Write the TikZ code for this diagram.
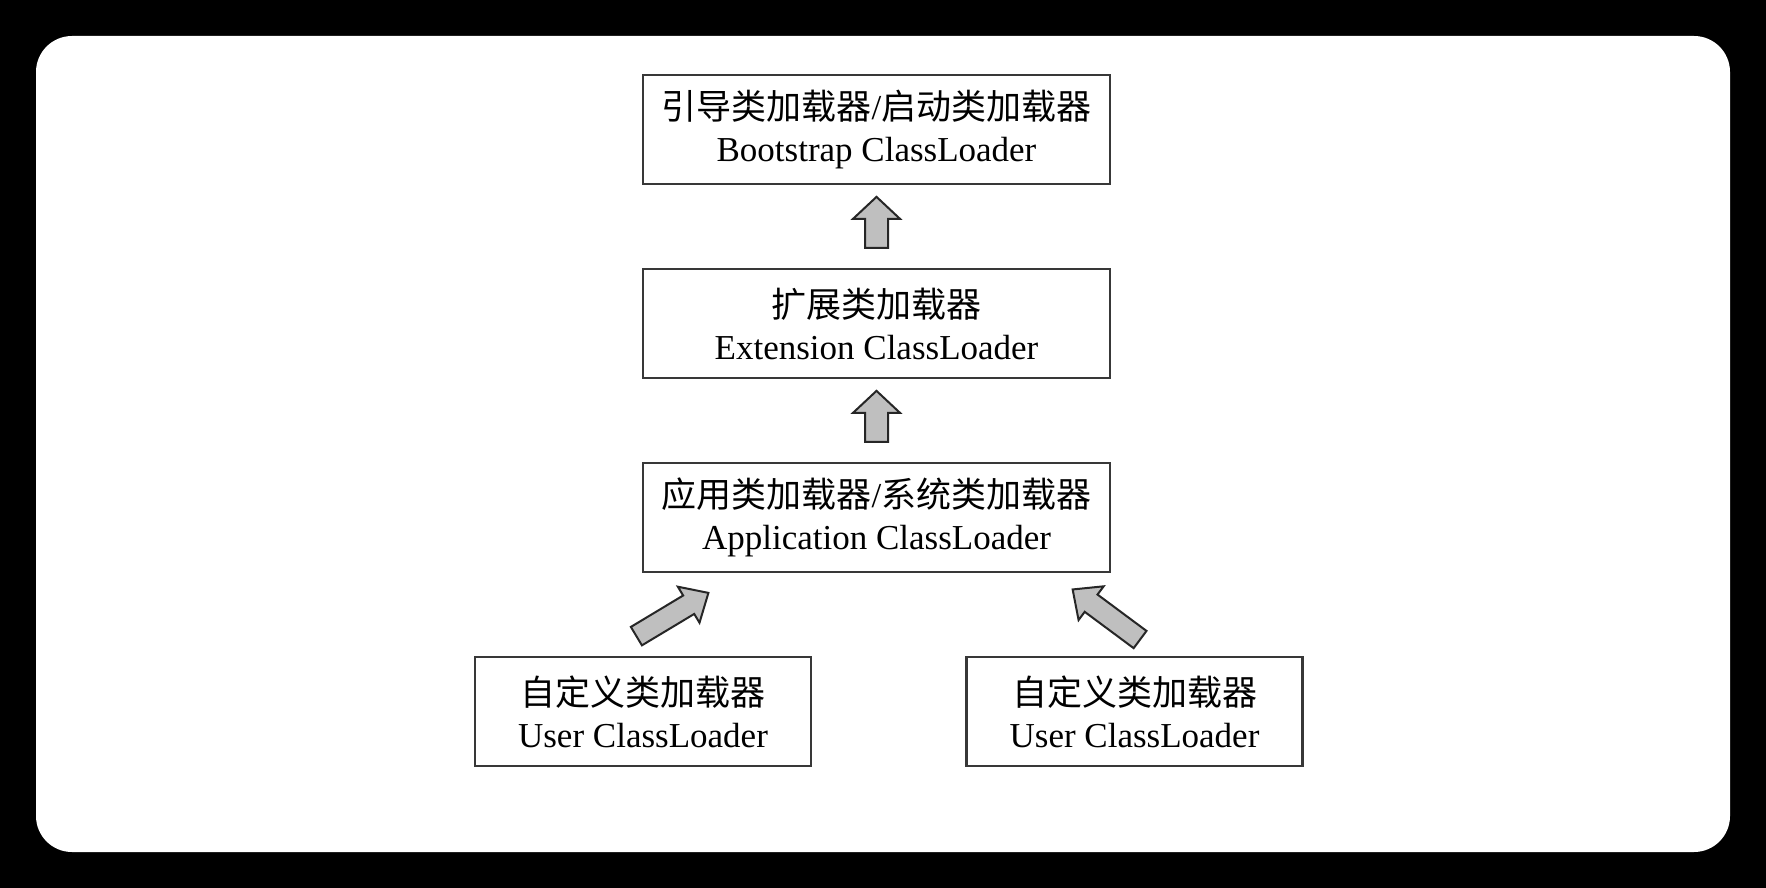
\documentclass[tikz,border=0pt]{standalone}
\usepackage{fontspec}
\setmainfont{Liberation Serif}
\newfontfamily\cjk{Noto Sans CJK SC}
\usetikzlibrary{calc}

\begin{document}
\begin{tikzpicture}
	[x=0.5pt,y=-0.5pt,node distance=97pt,
		loader/.style={draw=black!78,line width=1.2pt,fill=white,minimum width=233.5pt,minimum height=54.5pt,align=center,font=\fontsize{17.5}{21}\selectfont},
		user loader/.style={loader,minimum width=168pt},
		arrow line/.style={draw=black!85,line width=1pt,fill=black!25,line join=miter},
		pics/up arrow/.style={code={\filldraw[arrow line] (-25.5,-11.5) -- (3.5,-11.5) -- (3.5,-23.5) -- (25.5,0) -- (3.5,23.5) -- (3.5,11.5) -- (-25.5,11.5) -- cycle;}},
		pics/side arrow/.style={code={\filldraw[arrow line] (-42,-10.75) -- (19,-10.75) -- (19,-21) -- (42,0) -- (19,21) -- (19,10.75) -- (-42,10.75) -- cycle;}}]

	\useasboundingbox (0,0) rectangle (1766,888);
	\fill[black] (0,0) rectangle (1766,888);
	\fill[white,rounded corners=18pt] (36,36) rectangle (1730,852);

	\node[loader] (boot) at (876.5,129.5) {{\cjk 引导类加载器}/{\cjk 启动类加载器}\\Bootstrap ClassLoader};
	\node[loader] [below of=boot] (ext) {{\cjk 扩展类加载器}\\Extension ClassLoader};
	\node[loader] [below of=ext] (app) {{\cjk 应用类加载器}/{\cjk 系统类加载器}\\Application ClassLoader};
	\node[user loader] [below of=app,xshift=-116.75pt] (userA) {{\cjk 自定义类加载器}\\User ClassLoader};
	\node[user loader] [below of=app,xshift=129pt] (userB) {{\cjk 自定义类加载器}\\User ClassLoader};

	% parent delegation arrows
	\pic[rotate=90] (extup) at ($(boot.south)!0.45!(ext.north)$) {up arrow};
	\pic[rotate=90] (appup) at ($(ext.south)!0.45!(app.north)$) {up arrow};
	\pic[rotate=31] (userAup) at ($(app.south west)!0.5!(userA.north)+(30,0)$) {side arrow};
	\pic[rotate=143.4] (userBup) at ($(app.south east)!0.5!(userB.north)+(-16.5,0)$) {side arrow};

\end{tikzpicture}
\end{document}
